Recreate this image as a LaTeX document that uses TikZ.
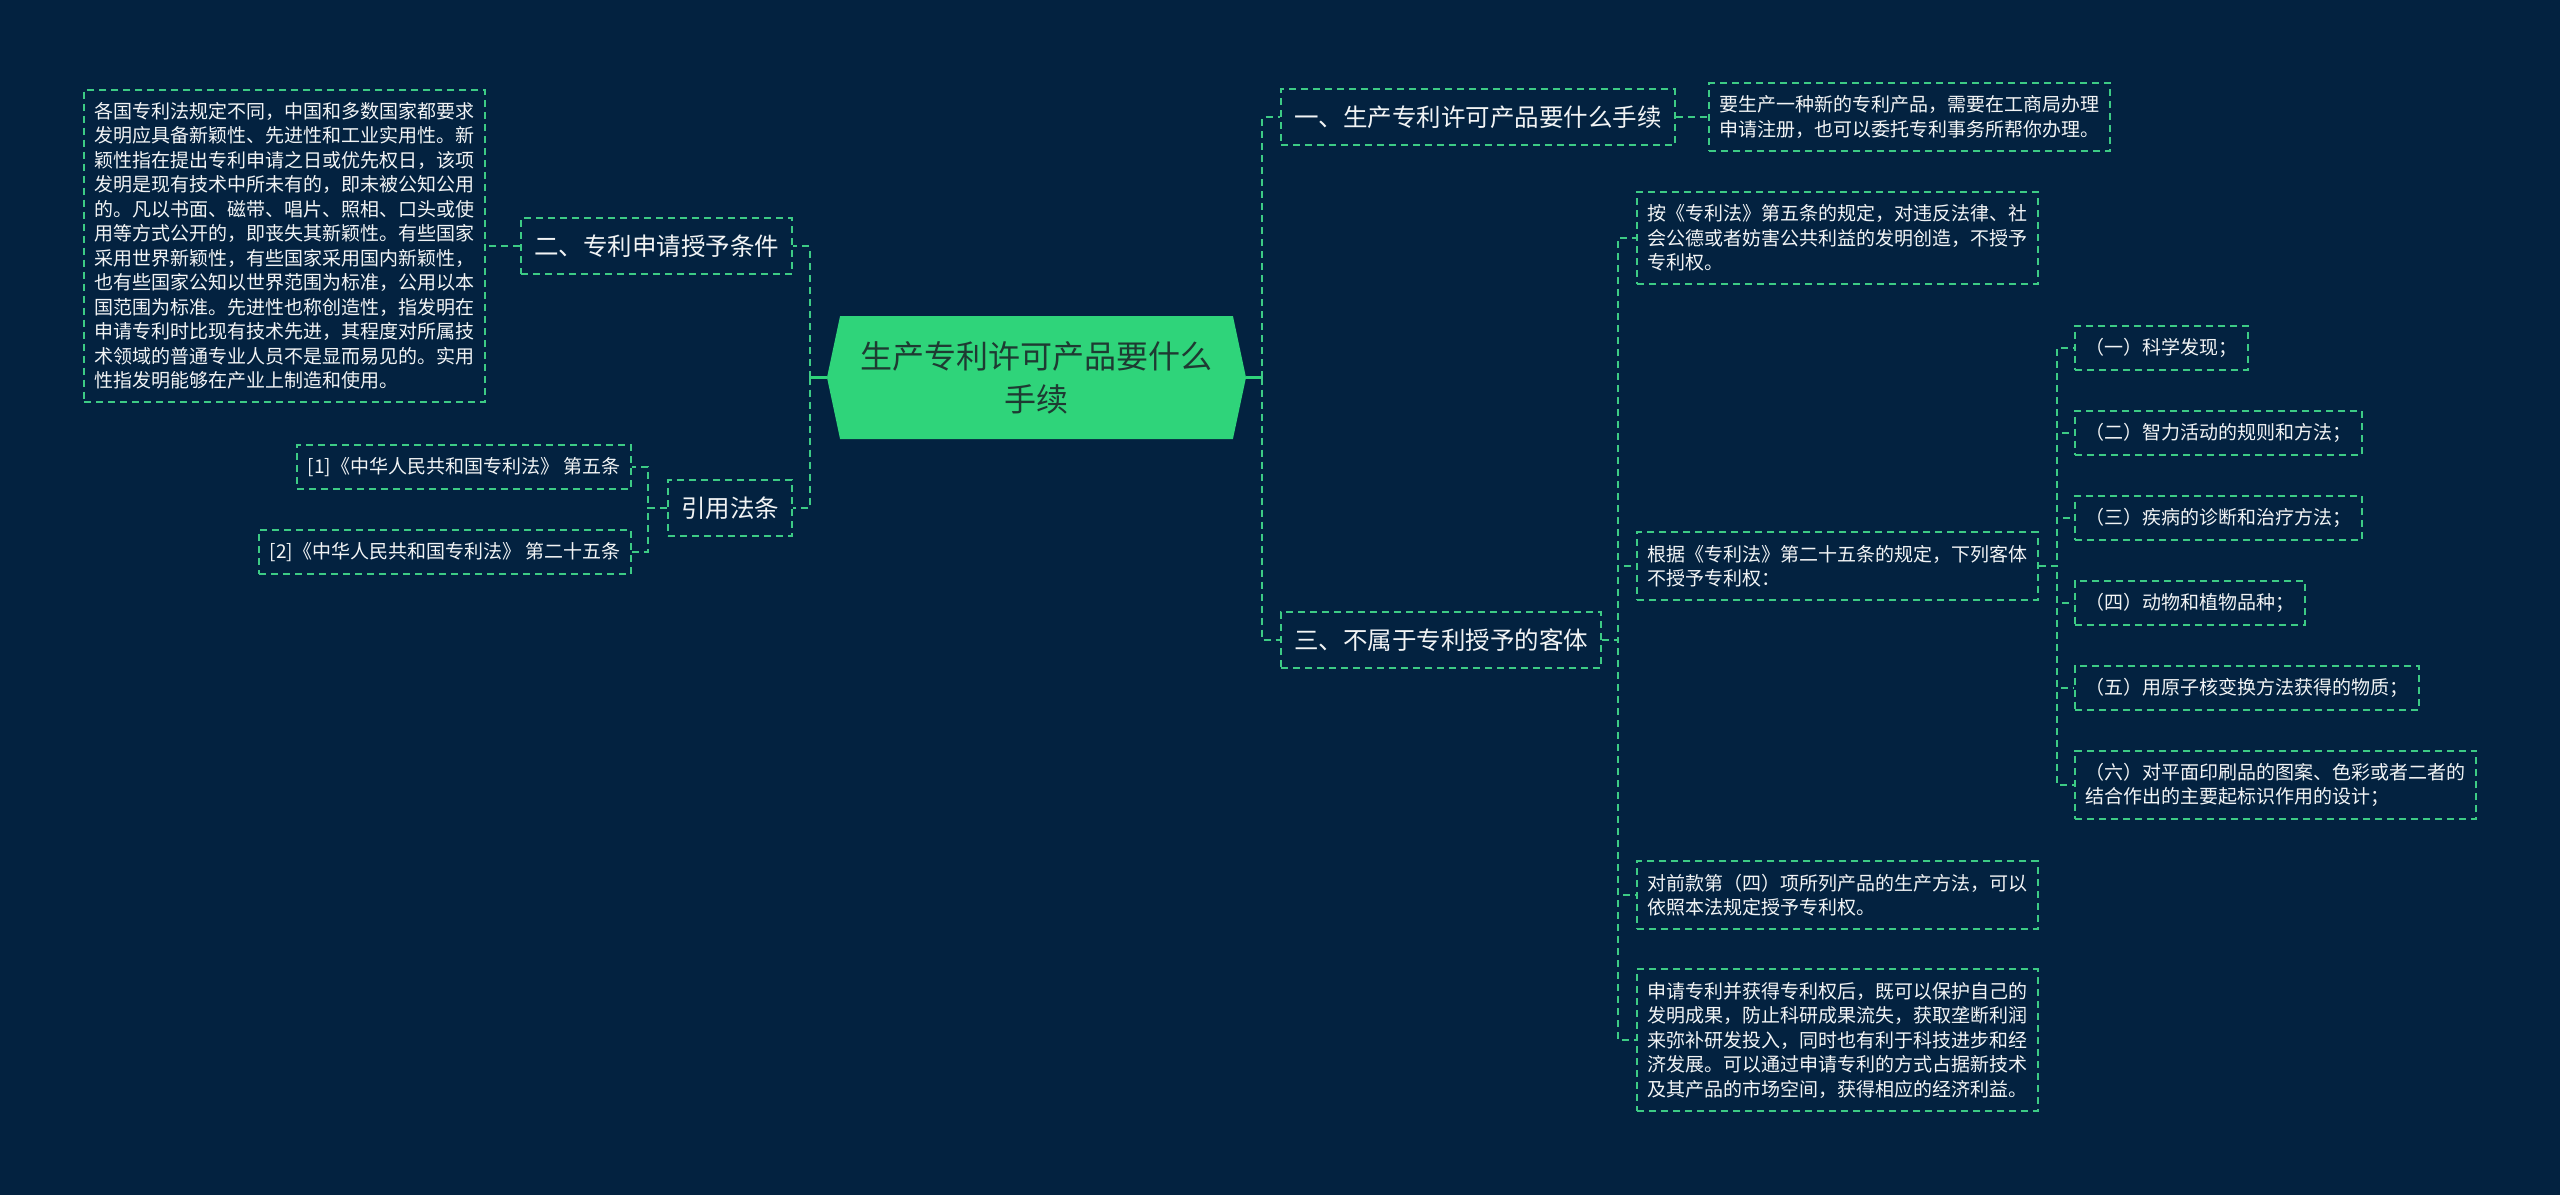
\documentclass[tikz,border=0pt]{standalone}
\usepackage{fontspec}
\setmainfont{Noto Sans CJK SC}
\usepackage{tikz}
\usetikzlibrary{shapes.symbols}
\definecolor{bgnavy}{HTML}{032240}
\definecolor{linegreen}{HTML}{3DCB85}
\definecolor{rootgreen}{HTML}{2FD47A}
\definecolor{roottext}{HTML}{1E3A32}
\definecolor{textwhite}{HTML}{F2F4F5}

\begin{document}
\begin{tikzpicture}[x=1pt,y=-1pt,
    topic/.style={draw=linegreen,line width=2pt,dash pattern=on 7pt off 5pt,text=textwhite,
      font=\fontsize{24.5}{30}\selectfont,inner xsep=13pt,minimum height=56pt},
    note/.style={draw=linegreen,line width=2pt,dash pattern=on 7pt off 5pt,text=textwhite,
      font=\fontsize{19}{24.5}\selectfont,align=left,inner xsep=10.5pt,inner ysep=12.5pt},
    root node/.style={signal,signal to=west and east,signal pointer angle=156,fill=rootgreen,
      text=roottext,font=\fontsize{32}{43}\selectfont,align=center,
      minimum width=419pt,minimum height=123pt,inner sep=0pt},
    link/.style={draw=linegreen,line width=2pt,dash pattern=on 7pt off 5pt},
    stub/.style={draw=rootgreen,line width=3pt},
    fork/.style={to path={-- ++(#1,0) |- (\tikztotarget)}}]

  \fill[bgnavy] (0,0) rectangle (2560,1195);
  \useasboundingbox (0,0) rectangle (2560,1195);

  \node[root node] (root) at (1036.5,377.5) {生产专利许可产品要什么\\手续};

  \node[topic,anchor=east] (two) at (793,246) {二、专利申请授予条件};
  \node[note,anchor=east] (twotext) at (486,246) {各国专利法规定不同，中国和多数国家都要求\\
    发明应具备新颖性、先进性和工业实用性。新\\
    颖性指在提出专利申请之日或优先权日，该项\\
    发明是现有技术中所未有的，即未被公知公用\\
    的。凡以书面、磁带、唱片、照相、口头或使\\
    用等方式公开的，即丧失其新颖性。有些国家\\
    采用世界新颖性，有些国家采用国内新颖性，\\
    也有些国家公知以世界范围为标准，公用以本\\
    国范围为标准。先进性也称创造性，指发明在\\
    申请专利时比现有技术先进，其程度对所属技\\
    术领域的普通专业人员不是显而易见的。实用\\
    性指发明能够在产业上制造和使用。};
  \node[topic,anchor=east] (cite) at (793,508) {引用法条};
  \node[note,anchor=east] (cite1) at (632,467) {[1]《中华人民共和国专利法》 第五条};
  \node[note,anchor=east] (cite2) at (632,552) {[2]《中华人民共和国专利法》 第二十五条};

  \node[topic,anchor=west] (one) at (1280,117) {一、生产专利许可产品要什么手续};
  \node[note,anchor=west] (onetext) at (1708,117) {要生产一种新的专利产品，需要在工商局办理\\
    申请注册，也可以委托专利事务所帮你办理。};
  \node[topic,anchor=west] (three) at (1280,640) {三、不属于专利授予的客体};
  \node[note,anchor=west] (ex1) at (1636,238) {按《专利法》第五条的规定，对违反法律、社\\
    会公德或者妨害公共利益的发明创造，不授予\\
    专利权。};
  \node[note,anchor=west] (ex2) at (1636,566) {根据《专利法》第二十五条的规定，下列客体\\
    不授予专利权：};
  \node[note,anchor=west] (ex3) at (1636,895) {对前款第（四）项所列产品的生产方法，可以\\
    依照本法规定授予专利权。};
  \node[note,anchor=west] (ex4) at (1636,1040) {申请专利并获得专利权后，既可以保护自己的\\
    发明成果，防止科研成果流失，获取垄断利润\\
    来弥补研发投入，同时也有利于科技进步和经\\
    济发展。可以通过申请专利的方式占据新技术\\
    及其产品的市场空间，获得相应的经济利益。};

  \node[note,anchor=west] (item1) at (2074,348) {（一）科学发现；};
  \node[note,anchor=west] (item2) at (2074,433) {（二）智力活动的规则和方法；};
  \node[note,anchor=west] (item3) at (2074,518) {（三）疾病的诊断和治疗方法；};
  \node[note,anchor=west] (item4) at (2074,603) {（四）动物和植物品种；};
  \node[note,anchor=west] (item5) at (2074,688) {（五）用原子核变换方法获得的物质；};
  \node[note,anchor=west] (item6) at (2074,785) {（六）对平面印刷品的图案、色彩或者二者的\\
    结合作出的主要起标识作用的设计；};

  \draw[stub] (root.west) -- ++(-17,0) coordinate (lj);
  \draw[stub] (root.east) -- ++(16,0) coordinate (rj);

\path[link]
    (lj) edge[fork=0] (two.east)
         edge[fork=0] (cite.east)
    (two.west) edge (twotext.east)
    (cite.west) edge[fork=-19] (cite1.east)
                edge[fork=-19] (cite2.east)
    (rj) edge[fork=0] (one.west)
         edge[fork=0] (three.west)
    (one.east) edge (onetext.west)
    (three.east) edge[fork=16] (ex1.west)
                 edge[fork=16] (ex2.west)
                 edge[fork=16] (ex3.west)
                 edge[fork=16] (ex4.west)
    (ex2.east) edge[fork=18] (item1.west)
               edge[fork=18] (item2.west)
               edge[fork=18] (item3.west)
               edge[fork=18] (item4.west)
               edge[fork=18] (item5.west)
               edge[fork=18] (item6.west)
;
\end{tikzpicture}
\end{document}
